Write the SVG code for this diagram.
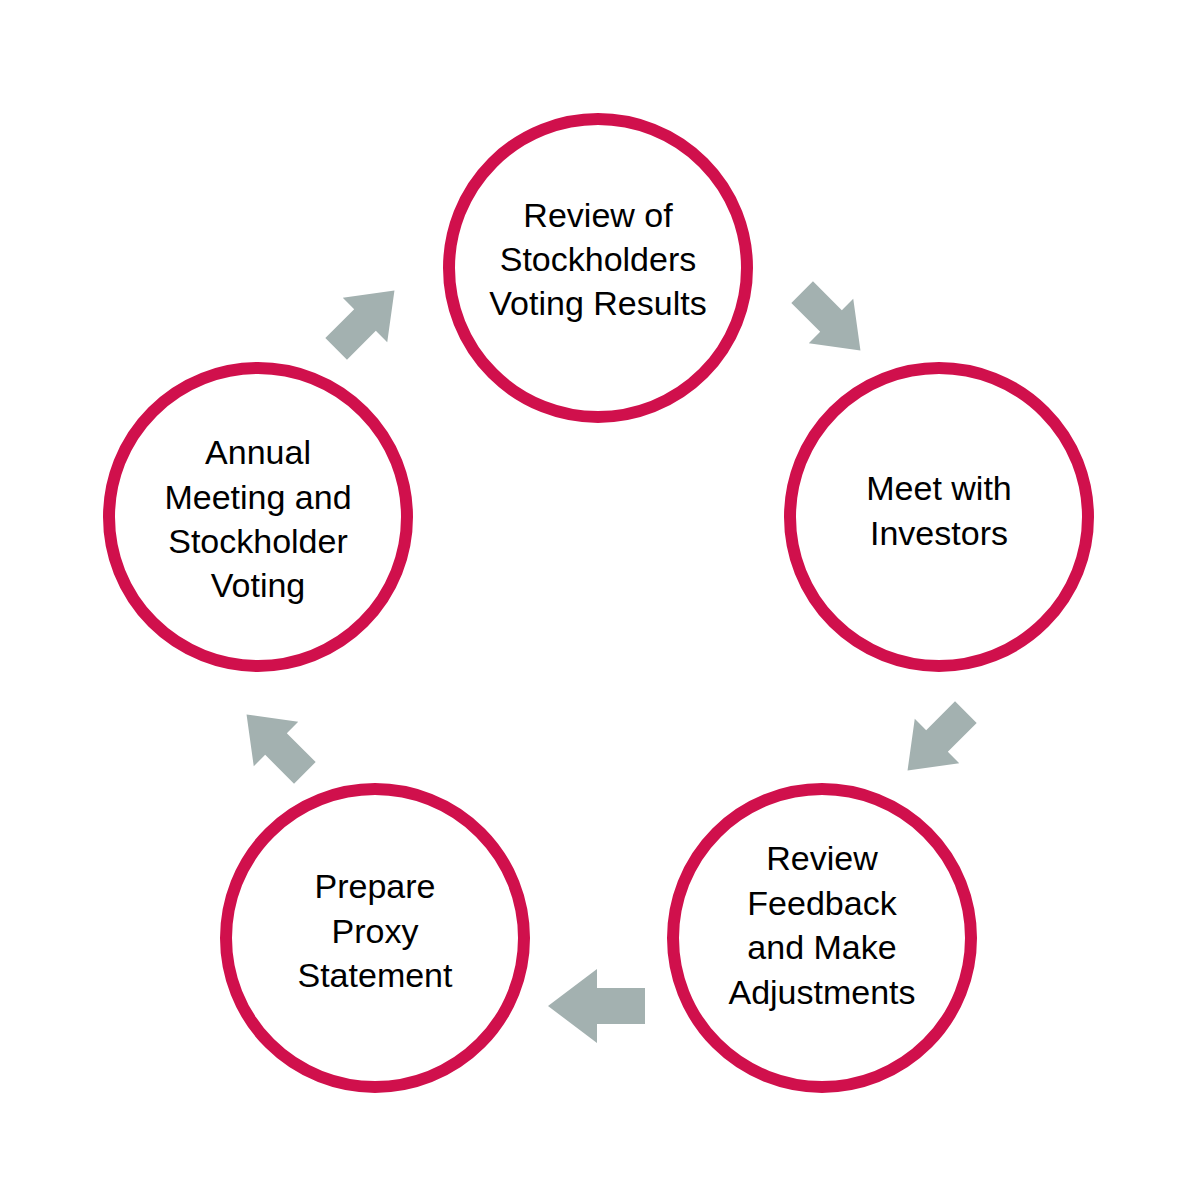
<svg xmlns="http://www.w3.org/2000/svg" width="1200" height="1200" viewBox="0 0 1200 1200">
<style>
.n{fill:#fff;stroke:#d0104c;stroke-width:12}
.t{font-family:"Liberation Sans",Arial,sans-serif;font-size:34px;fill:#000;text-anchor:middle}
.a{fill:#a3b1b0}
</style>
<defs><polygon id="arr" points="-48,-18 0,-18 0,-37 49,0 0,37 0,18 -48,18"/></defs>
<rect width="1200" height="1200" fill="#fff"/>
<g id="connectors">
<use href="#arr" class="a" transform="translate(831,321) rotate(45) scale(0.85)"/>
<use href="#arr" class="a" transform="translate(937,741) rotate(135) scale(0.85)"/>
<use href="#arr" class="a" transform="translate(597,1006) rotate(180)"/>
<use href="#arr" class="a" transform="translate(276,744) rotate(225) scale(0.85)"/>
<use href="#arr" class="a" transform="translate(365,320) rotate(-45) scale(0.85)"/>
</g>
<g id="n1"><circle class="n" cx="598" cy="268" r="149"/><text class="t" x="598" y="227">Review of</text><text class="t" x="598" y="271">Stockholders</text><text class="t" x="598" y="315">Voting Results</text></g>
<g id="n2"><circle class="n" cx="939" cy="517" r="149"/><text class="t" x="939" y="500">Meet with</text><text class="t" x="939" y="545">Investors</text></g>
<g id="n3"><circle class="n" cx="822" cy="938" r="149"/><text class="t" x="822" y="870">Review</text><text class="t" x="822" y="915">Feedback</text><text class="t" x="822" y="959">and Make</text><text class="t" x="822" y="1004">Adjustments</text></g>
<g id="n4"><circle class="n" cx="375" cy="938" r="149"/><text class="t" x="375" y="898">Prepare</text><text class="t" x="375" y="943">Proxy</text><text class="t" x="375" y="987">Statement</text></g>
<g id="n5"><circle class="n" cx="258" cy="517" r="149"/><text class="t" x="258" y="464">Annual</text><text class="t" x="258" y="509">Meeting and</text><text class="t" x="258" y="553">Stockholder</text><text class="t" x="258" y="597">Voting</text></g>
</svg>
